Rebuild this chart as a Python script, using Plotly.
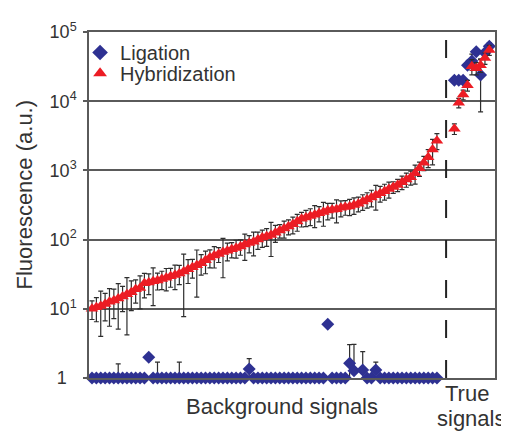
import plotly.graph_objects as go

# ---------------- data ----------------
bg_x = list(range(1, 81))
true_x = [84, 85, 86, 87, 88, 89, 90, 91, 92]

hyb_bg = [10.0, 10.5, 11.0, 11.7, 12.6, 13.2, 14.1, 15.1, 16.2, 17.4,
          19.1, 20.0, 23.4, 24.0, 25.1, 25.7, 26.9, 28.2, 29.5, 30.9,
          32.4, 34.7, 37.2, 39.8, 42.7, 45.7, 50.1, 55.0, 58.9, 61.7,
          66.1, 69.2, 72.4, 75.9, 79.4, 85.1, 89.1, 93.3, 100, 107,
          112, 117, 126, 135, 145, 155, 166, 182, 200, 209,
          219, 229, 240, 251, 263, 269, 275, 288, 295, 302,
          316, 331, 355, 380, 407, 437, 468, 501, 537, 575,
          617, 676, 741, 794, 912, 1070, 1290, 1550, 2000, 2690]
hyb_bg_err = [3, 4, 7, 5, 7, 6, 9, 6, 12, 8,
              7, 10, 9, 8, 14, 7, 8, 10, 9, 12,
              10, 27, 14, 12, 28, 15, 18, 16, 20, 15,
              38, 20, 18, 22, 20, 35, 25, 35, 28, 30,
              32, 60, 35, 30, 40, 38, 45, 50, 48, 55,
              60, 80, 60, 95, 70, 65, 100, 75, 70, 80,
              85, 80, 90, 95, 110, 170, 120, 130, 140, 110,
              125, 150, 170, 180, 280, 250, 300, 450, 800, 700]

lig_bg = [1] * 80
lig_bg_err_plus = [0] * 80
lig_bg_err_minus = [0] * 80
# notable ligation background values (1-based probe number: value, +err, -err)
lig_special = {7: (1.0, 0.6, 0.0), 14: (2.0, 0.0, 0.0), 16: (1.0, 0.7, 0.0),
               21: (1.0, 0.7, 0.0), 37: (1.35, 0.55, 0.47), 55: (6.0, 0.0, 0.0),
               60: (1.63, 1.4, 0.75), 61: (1.27, 1.8, 0.0), 62: (0.97, 0.0, 0.0),
               63: (1.30, 1.1, 0.0), 66: (1.30, 0.4, 0.0)}
for k, (v, ep, em) in lig_special.items():
    lig_bg[k - 1] = v
    lig_bg_err_plus[k - 1] = ep
    lig_bg_err_minus[k - 1] = em

hyb_true = [4000, 9500, 12500, 17000, 32000, 30000, 33000, 42000, 55000]
hyb_true_err = [700, 1500, 2000, 3000, 8000, 6000, 7000, 8000, 9000]
lig_true = [20000, 20000, 20000, 33000, 38000, 52000, 24000, 50000, 62000]
lig_true_err = [0, 0, 0, 3000, 10000, 0, 17000, 0, 8000]

ytick_vals = [1, 10, 100, 1000, 10000, 100000]
ytick_text = ["1\u00a0\u00a0", "10<sup>1</sup>", "10<sup>2</sup>", "10<sup>3</sup>",
              "10<sup>4</sup>", "10<sup>5</sup>"]

BLUE = "#2E3192"
RED = "#EC1C24"
GRID = "#5a5a5a"
TXT = "#333333"
ERR = "#2e2e2e"
FONT = "Liberation Sans, Arial"

lig_x = bg_x + true_x
lig_y = lig_bg + lig_true
lig_ep = lig_bg_err_plus + lig_true_err
lig_em = lig_bg_err_minus + lig_true_err

hyb_x = bg_x + true_x
hyb_y = hyb_bg + hyb_true
hyb_e = hyb_bg_err + hyb_true_err

fig = go.Figure()
fig.add_trace(go.Scatter(
    x=lig_x, y=lig_y, mode="markers", name="Ligation", legend="legend",
    marker=dict(symbol="diamond", size=10, color=BLUE),
    error_y=dict(type="data", array=lig_ep, arrayminus=lig_em, symmetric=False,
                 color=ERR, thickness=1.2, width=2.5),
    cliponaxis=False,
))
fig.add_trace(go.Scatter(
    x=hyb_x, y=hyb_y, mode="markers", name="Hybridization", legend="legend2",
    marker=dict(symbol="triangle-up", size=11, color=RED),
    error_y=dict(type="data", array=hyb_e, color=ERR, thickness=1.2, width=2.5),
    cliponaxis=False,
))

fig.add_shape(type="line", xref="x", yref="paper", x0=82.1, x1=82.1, y0=0, y1=1,
              line=dict(color="#222222", width=2, dash="18px,22px"))

lab_font = dict(size=22, color=TXT, family=FONT)
ann_common = dict(xref="paper", yref="paper", showarrow=False, font=lab_font,
                  xanchor="center", yanchor="middle")
fig.add_annotation(text="Fluorescence (a.u.)", x=-0.158, y=0.53, textangle=-90,
                   **ann_common)
fig.add_annotation(text="Background signals", x=0.475, y=-0.083, **ann_common)
fig.add_annotation(text="True", x=0.932, y=-0.046, **ann_common)
fig.add_annotation(text="signals", x=0.942, y=-0.118, **ann_common)

leg_common = dict(xanchor="left", yanchor="top", bgcolor="rgba(0,0,0,0)",
                  font=dict(size=20, color=TXT, family=FONT), itemwidth=30,
                  itemsizing="constant")

fig.update_layout(
    width=501, height=424,
    margin=dict(l=81, r=14, t=22, b=54),
    paper_bgcolor="white", plot_bgcolor="white",
    font=dict(family=FONT, size=16, color=TXT),
    showlegend=True,
    legend=dict(x=-0.022, y=0.997, **leg_common),
    legend2=dict(x=-0.022, y=0.937, **leg_common),
    xaxis=dict(range=[0.31, 93.3], showticklabels=False, ticks="",
               showgrid=False, zeroline=False, showline=True,
               linecolor=GRID, linewidth=1.5, mirror=True),
    yaxis=dict(type="log", range=[0, 5], tickvals=ytick_vals, ticktext=ytick_text,
               ticks="outside", ticklen=4, tickcolor=GRID, tickwidth=1.5,
               ticklabelstandoff=3,
               tickfont=dict(size=18, color=TXT, family=FONT),
               showgrid=True, gridcolor=GRID, gridwidth=1.5,
               showline=True, linecolor=GRID, linewidth=1.5, mirror=True,
               zeroline=False),
)

fig.write_html("out.html")
